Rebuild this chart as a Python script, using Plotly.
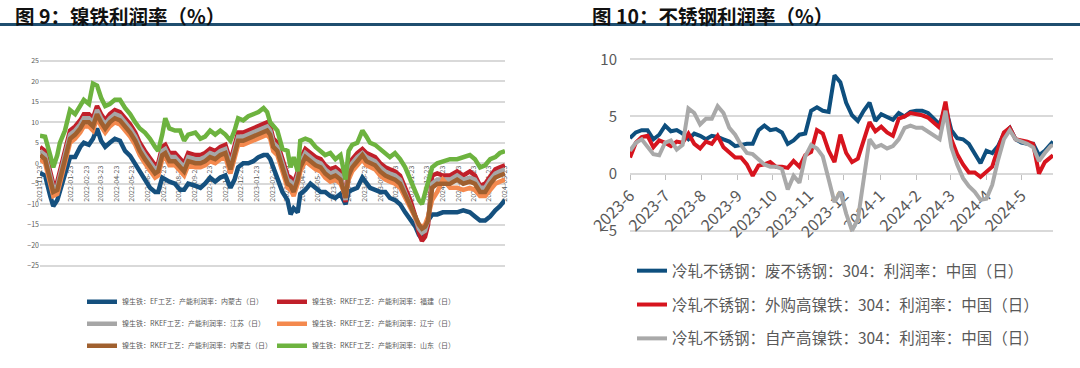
import plotly.graph_objects as go

# ---------------- Left chart data: 镍铁利润率 ----------------
left_dates = [
    "2021-11-23", "2021-12-03", "2021-12-13", "2021-12-19", "2021-12-27", "2022-01-01", "2022-01-11", "2022-01-21", "2022-01-31", "2022-02-10",
    "2022-02-17", "2022-02-27", "2022-03-07", "2022-03-15", "2022-03-23", "2022-03-31", "2022-04-09", "2022-04-19", "2022-04-29", "2022-05-09",
    "2022-05-19", "2022-05-29", "2022-06-07", "2022-06-17", "2022-06-27", "2022-07-07", "2022-07-13", "2022-07-21", "2022-07-27", "2022-08-04",
    "2022-08-15", "2022-08-25", "2022-09-02", "2022-09-10", "2022-09-24", "2022-10-04", "2022-10-13", "2022-10-23", "2022-11-02", "2022-11-12",
    "2022-11-22", "2022-12-02", "2022-12-10", "2022-12-17", "2022-12-27", "2023-01-06", "2023-01-16", "2023-01-26", "2023-02-05", "2023-02-12",
    "2023-02-18", "2023-02-24", "2023-03-04", "2023-03-14", "2023-03-24", "2023-03-30", "2023-04-05", "2023-04-13", "2023-04-18", "2023-04-28",
    "2023-05-08", "2023-05-18", "2023-05-28", "2023-06-06", "2023-06-16", "2023-06-26", "2023-07-06", "2023-07-16", "2023-07-22", "2023-07-29",
    "2023-08-08", "2023-08-18", "2023-08-26", "2023-09-02", "2023-09-12", "2023-09-22", "2023-10-02", "2023-10-11", "2023-10-21", "2023-10-31",
    "2023-11-10", "2023-11-20", "2023-11-30", "2023-12-07", "2023-12-13", "2023-12-19", "2023-12-25", "2024-01-02", "2024-01-12", "2024-01-23",
    "2024-02-06", "2024-02-20", "2024-03-03", "2024-03-16", "2024-03-26", "2024-04-05", "2024-04-15", "2024-04-25", "2024-05-05", "2024-05-14",
    "2024-05-24",
]

ef_neimenggu = [
    -2.4, -3.0, -8.0, -10.5, -9.0, -7.0, -2.5, 1.5, 1.5, 4.0,
    5.0, 4.5, 6.0, 8.5, 5.5, 4.0, 5.0, 6.0, 5.5, 3.0,
    1.8, 0.0, -2.0, -4.0, -6.0, -7.0, -7.0, -3.5, -4.0, -4.5,
    -5.0, -6.5, -6.5, -5.0, -5.5, -6.0, -5.0, -3.5, -4.5, -3.5,
    -3.0, -6.0, -4.0, -1.0, 0.0, 0.0, 0.5, 1.5, 2.0, 2.0,
    1.0, -1.0, -3.0, -7.0, -9.0, -12.5, -11.0, -12.0, -7.5, -6.5,
    -5.0, -6.0, -7.0, -7.0, -8.0, -8.5, -7.5, -10.0, -7.0, -6.5,
    -6.0, -3.5, -5.0, -6.0, -6.5, -7.0, -7.0, -8.5, -9.0, -10.0,
    -12.0, -14.0, -15.5, -17.5, -18.5, -16.0, -14.0, -12.5, -12.5, -12.0,
    -12.0, -12.0, -11.5, -12.0, -13.0, -14.0, -14.0, -13.0, -11.5, -10.5,
    -9.0,
]
rkef_fujian = [
    4.0, 3.0, -2.0, -5.0, -4.5, -2.0, 3.0, 8.0, 9.0, 10.5,
    12.0, 12.0, 11.0, 14.0, 12.0, 10.5, 12.0, 13.0, 12.5, 11.0,
    9.5, 7.5, 5.0, 3.0, 1.0, -0.5, 0.0, 4.0, 4.5, 2.5,
    2.5, 1.0, 0.0, 2.5, 2.0, 2.0, 2.5, 3.5, 3.0, 4.0,
    4.5, 0.5, 4.0, 7.5, 7.5, 8.0, 8.5, 9.0, 9.5, 10.0,
    9.0, 6.0, 5.0, 0.5, -3.0, -3.5, -5.0, -2.0, 1.0, 3.5,
    2.5, 1.5, 1.0, -0.5, -1.5, -1.0, -2.0, -9.5, -1.0, 1.0,
    2.5, 3.5, 2.5, 2.0, 1.5, 0.0, -1.0, -1.5, -2.0, -3.0,
    -6.0, -9.0, -13.0, -17.0, -19.0, -18.0, -15.0, -3.0, -2.5, -3.0,
    -3.0, -2.0, -3.0, -2.0, -3.0, -5.5, -5.0, -3.0, -1.5, -1.0,
    -0.5,
]
rkef_jiangsu = [
    3.0, 2.0, -3.0, -6.0, -5.5, -3.0, 2.0, 7.0, 8.0, 9.5,
    11.0, 11.0, 10.0, 13.0, 11.0, 9.5, 11.0, 12.0, 11.5, 10.0,
    8.5, 6.5, 4.0, 2.0, 0.0, -1.5, -1.0, 3.0, 3.5, 1.5,
    1.5, 0.0, -1.0, 1.5, 1.0, 1.0, 1.5, 2.5, 2.0, 3.0,
    3.5, -0.5, 3.0, 6.5, 6.5, 7.0, 7.5, 8.0, 8.5, 9.0,
    8.0, 5.0, 4.0, -0.5, -4.0, -4.5, -6.0, -3.0, 0.0, 2.5,
    1.5, 0.5, 0.0, -1.5, -2.5, -2.0, -3.0, -9.0, -2.0, 0.0,
    1.5, 2.5, 1.5, 1.0, 0.5, -1.0, -2.0, -2.5, -3.0, -4.0,
    -7.0, -10.0, -13.5, -16.0, -17.0, -16.5, -14.0, -5.0, -4.0, -4.0,
    -4.0, -3.0, -4.0, -3.5, -4.0, -6.0, -6.0, -4.0, -2.5, -2.0,
    -1.5,
]
rkef_liaoning = [
    1.0, 0.0, -5.0, -8.0, -7.5, -5.0, 0.0, 5.0, 6.0, 7.5,
    9.0, 9.0, 8.0, 11.0, 9.0, 7.5, 9.0, 10.0, 9.5, 8.0,
    6.5, 4.5, 2.0, 0.0, -2.0, -3.5, -3.0, 1.0, 1.5, -0.5,
    -0.5, -2.0, -3.0, -0.5, -1.0, -1.0, -0.5, 0.5, 0.0, 1.0,
    1.5, -2.5, 1.0, 4.5, 4.5, 5.0, 5.5, 6.0, 6.5, 7.0,
    6.0, 3.0, 2.0, -2.5, -6.0, -6.5, -8.0, -5.0, -2.0, 0.5,
    -0.5, -1.5, -2.0, -3.5, -4.5, -4.0, -5.0, -8.0, -4.0, -2.0,
    -0.5, 1.0, -0.5, -1.0, -1.5, -3.0, -4.0, -4.5, -5.0, -6.0,
    -8.5, -11.0, -13.5, -15.0, -15.5, -15.0, -13.0, -9.0, -7.0, -4.0,
    -6.0, -6.0, -6.5, -6.0, -6.5, -8.0, -8.0, -6.5, -5.0, -4.5,
    -4.0,
]
rkef_neimenggu = [
    2.0, 1.0, -4.0, -7.0, -6.5, -4.0, 1.0, 6.0, 7.0, 8.5,
    10.0, 10.0, 9.0, 12.0, 10.0, 8.5, 10.0, 11.0, 10.5, 9.0,
    7.5, 5.5, 3.0, 1.0, -1.0, -2.5, -2.0, 2.0, 2.5, 0.5,
    0.5, -1.0, -2.0, 0.5, 0.0, 0.0, 0.5, 1.5, 1.0, 2.0,
    2.5, -1.5, 2.0, 5.5, 5.5, 6.0, 6.5, 7.0, 7.5, 8.0,
    7.0, 4.0, 3.0, -1.5, -5.0, -5.5, -7.0, -4.0, -1.0, 1.5,
    0.5, -0.5, -1.0, -2.5, -3.5, -3.0, -4.0, -8.5, -3.0, -1.0,
    0.5, 2.0, 0.5, 0.0, -0.5, -2.0, -3.0, -3.5, -4.0, -5.0,
    -7.5, -10.0, -13.0, -15.0, -16.0, -15.5, -14.0, -6.0, -5.0, -5.0,
    -5.0, -4.0, -5.0, -4.5, -5.0, -7.0, -7.0, -5.0, -3.5, -3.0,
    -2.5,
]
rkef_shandong = [
    6.7, 6.5, 2.0, -1.0, 2.0, 5.0, 8.0, 13.0, 12.0, 14.0,
    15.5, 14.5, 19.5, 19.0, 16.0, 14.0, 14.5, 15.5, 15.5, 13.5,
    12.0, 10.0, 8.5, 7.5, 6.0, 4.0, 3.0, 7.0, 11.0, 8.5,
    8.0, 8.0, 5.5, 7.0, 7.5, 6.0, 6.5, 8.0, 7.0, 8.0,
    7.0, 5.5, 8.0, 11.0, 10.5, 11.5, 12.0, 12.5, 13.5, 12.5,
    10.0, 9.0, 8.0, 3.5, 3.0, -1.0, 1.5, -2.0, 5.5, 6.0,
    5.5, 4.0, 3.0, 2.0, 2.5, 1.0, 2.0, -4.0, 3.0, 4.5,
    5.0, 8.0, 6.5, 5.0, 4.5, 3.5, 2.5, 1.5, 2.5, 1.0,
    -1.0, -4.0, -6.5, -9.0, -10.0, -7.0, -5.0, -1.0, 0.0, 0.5,
    1.0, 1.0, 1.5, 2.0, 1.0, -1.0, -0.5, 1.0, 1.5, 2.5,
    3.0,
]

left_names = [
    "镍生铁：EF工艺：产能利润率：内蒙古（日）",
    "镍生铁：RKEF工艺：产能利润率：福建（日）",
    "镍生铁：RKEF工艺：产能利润率：江苏（日）",
    "镍生铁：RKEF工艺：产能利润率：辽宁（日）",
    "镍生铁：RKEF工艺：产能利润率：内蒙古（日）",
    "镍生铁：RKEF工艺：产能利润率：山东（日）",
]
left_ticks = [
    "2021-11-23", "2022-01-23", "2022-02-23", "2022-03-23", "2022-04-23", "2022-05-23", "2022-06-23",
    "2022-07-23", "2022-08-23", "2022-09-23", "2022-10-23", "2022-11-23", "2022-12-23", "2023-01-23",
    "2023-02-23", "2023-03-23", "2023-04-23", "2023-05-23", "2023-06-23", "2023-07-23", "2023-08-23",
    "2023-09-23", "2023-10-23", "2023-11-23", "2023-12-23", "2024-01-23", "2024-02-23", "2024-03-23",
    "2024-04-23", "2024-05-23",
]
left_yticks = [-25, -20, -15, -10, -5, 0, 5, 10, 15, 20, 25]

# ---------------- Right chart data: 不锈钢利润率 ----------------
right_dates = [
    "2023-06-01", "2023-06-06", "2023-06-11", "2023-06-16", "2023-06-21", "2023-06-26", "2023-07-01", "2023-07-06", "2023-07-11", "2023-07-16",
    "2023-07-21", "2023-07-26", "2023-07-31", "2023-08-05", "2023-08-10", "2023-08-15", "2023-08-20", "2023-08-25", "2023-08-30", "2023-09-04",
    "2023-09-09", "2023-09-14", "2023-09-19", "2023-09-24", "2023-09-29", "2023-10-04", "2023-10-09", "2023-10-14", "2023-10-19", "2023-10-24",
    "2023-10-29", "2023-11-03", "2023-11-08", "2023-11-13", "2023-11-18", "2023-11-23", "2023-11-28", "2023-12-03", "2023-12-08", "2023-12-13",
    "2023-12-18", "2023-12-23", "2023-12-28", "2024-01-02", "2024-01-07", "2024-01-12", "2024-01-17", "2024-01-22", "2024-01-27", "2024-02-01",
    "2024-02-06", "2024-02-11", "2024-02-16", "2024-02-21", "2024-02-26", "2024-03-02", "2024-03-07", "2024-03-12", "2024-03-17", "2024-03-22",
    "2024-03-27", "2024-04-01", "2024-04-06", "2024-04-11", "2024-04-16", "2024-04-21", "2024-04-26", "2024-05-01", "2024-05-06", "2024-05-11",
    "2024-05-16", "2024-05-21", "2024-05-26", "2024-05-28",
]
scrap_304 = [
    3.1, 3.6, 3.8, 3.8, 3.0, 3.4, 4.2, 3.7, 3.8, 3.5,
    3.0, 3.5, 3.3, 3.0, 3.3, 3.2, 3.0, 2.8, 2.4, 2.5,
    2.6, 2.6, 3.8, 4.2, 3.8, 3.9, 3.6, 2.6, 2.9, 3.4,
    3.5, 5.5, 5.8, 5.5, 5.4, 8.6, 8.0, 6.2, 5.1, 4.6,
    5.5, 6.2, 4.6, 5.2, 4.9, 4.7, 5.3, 5.0, 5.4, 5.5,
    5.5, 5.3, 4.8, 4.3, 5.8, 3.8, 3.1, 3.0, 2.6, 1.8,
    0.9, 2.0, 1.8, 2.4, 3.5, 4.0, 3.0, 2.7, 2.6, 2.6,
    1.6, 2.0, 2.6, 2.8,
]
bought_npi_304 = [
    1.4, 2.7, 3.2, 3.3, 2.3, 2.9, 2.7, 2.4, 2.8, 2.7,
    3.5, 2.6, 2.2, 2.8, 2.6, 3.3, 2.3, 1.8, 1.4, 1.4,
    0.8, -0.2, 0.7, 0.8, 1.0, 0.6, 0.6, 0.5, 1.1, 0.6,
    1.6, 1.9, 3.8, 3.5, 2.0, 1.0, 3.4, 1.8, 1.0, 1.3,
    2.8, 4.5, 3.7, 4.1, 3.6, 3.3, 4.8, 5.0, 5.3, 5.2,
    5.1, 4.9, 4.5, 4.0, 6.3, 3.0, 1.7, 0.8, 0.1, 0.1,
    -0.3, 0.2, 0.6, 2.2, 3.6, 4.0, 3.0, 2.9, 2.8, 2.6,
    0.0, 1.0, 1.4, 1.6,
]
own_npi_304 = [
    2.0, 2.7, 3.0, 2.4, 1.7, 1.6, 2.7, 2.9, 2.1, 2.5,
    5.7, 5.3, 4.3, 4.8, 4.8, 5.9, 5.3, 4.0, 3.4, 2.5,
    1.8, 1.7, 1.3, 0.8, 0.6, 0.6, 0.4, -1.4, -0.2, -0.8,
    1.5, 2.5, 2.2, 1.5, -0.5, -2.5, -1.6, -3.5, -5.0, -4.0,
    -0.5, 3.0, 2.3, 2.5, 2.2, 2.4, 3.0, 4.0, 4.2, 4.0,
    4.0, 3.7, 3.3, 3.0, 5.5, 2.3, 0.8, -0.4, -1.1, -1.6,
    -2.3, -2.2, -1.0, 1.2, 3.0, 3.8, 3.0, 2.8, 2.6, 2.3,
    1.1, 1.8, 2.4, 2.5,
]
right_names = [
    "冷轧不锈钢：废不锈钢：304：利润率：中国（日）",
    "冷轧不锈钢：外购高镍铁：304：利润率：中国（日）",
    "冷轧不锈钢：自产高镍铁：304：利润率：中国（日）",
]
right_tickvals = [
    "2023-06-01", "2023-07-01", "2023-08-01", "2023-09-01", "2023-10-01", "2023-11-01",
    "2023-12-01", "2024-01-01", "2024-02-01", "2024-03-01", "2024-04-01", "2024-05-01",
]
right_ticktext = [
    "2023-6", "2023-7", "2023-8", "2023-9", "2023-10", "2023-11",
    "2023-12", "2024-1", "2024-2", "2024-3", "2024-4", "2024-5",
]
right_yticks = [-5, 0, 5, 10]

titles = ["图 9：镍铁利润率（%）", "图 10：不锈钢利润率（%）"]

# ---------------- Styling ----------------
W, H = 1080, 368
FONT = "Noto Sans CJK SC, Microsoft YaHei, sans-serif"
TXT = "#595959"
GRID = "#d9d9d9"

left_series = [ef_neimenggu, rkef_fujian, rkef_jiangsu, rkef_liaoning, rkef_neimenggu, rkef_shandong]
left_colors = ["#15507e", "#c0202a", "#a6a6a6", "#f4894e", "#a0602f", "#6db33f"]
left_legends = ["legend", "legend2", "legend", "legend2", "legend", "legend2"]

right_series = [scrap_304, bought_npi_304, own_npi_304]
right_colors = ["#0e4f7e", "#d7141e", "#a9a9a9"]

fig = go.Figure()
for i, (vals, col, name, lg) in enumerate(zip(left_series, left_colors, left_names, left_legends)):
    fig.add_trace(go.Scatter(
        x=left_dates, y=vals, name=name, mode="lines",
        line=dict(color=col, width=4.5), xaxis="x", yaxis="y",
        legend=lg, legendgroup=f"l{i}", hoverinfo="skip",
    ))
for i, (vals, col, name) in enumerate(zip(right_series, right_colors, right_names)):
    fig.add_trace(go.Scatter(
        x=right_dates, y=vals, name=name, mode="lines",
        line=dict(color=col, width=4), xaxis="x2", yaxis="y2",
        legend="legend3", legendgroup=f"r{i}", hoverinfo="skip",
    ))

def px_x(p):
    return p / W

def px_y(p):
    return 1 - p / H

fig.update_layout(
    template="none",
    width=W, height=H, autosize=False,
    margin=dict(l=0, r=0, t=0, b=0, pad=0),
    paper_bgcolor="white", plot_bgcolor="white",
    font=dict(family=FONT, color=TXT),
    xaxis=dict(
        domain=[px_x(40), px_x(505)], anchor="free", position=px_y(163.3),
        type="date", range=[left_dates[0], left_dates[-1]],
        tickvals=left_ticks, ticktext=left_ticks, tickangle=-90,
        tickfont=dict(size=7, color=TXT), showgrid=False, showline=False,
        zeroline=False, ticks="", layer="below traces", fixedrange=True,
        automargin=False,
    ),
    yaxis=dict(
        domain=[px_y(269.6), px_y(56.9)], anchor="x", range=[-26, 26],
        tickvals=left_yticks, tickfont=dict(size=7, color=TXT),
        showgrid=True, gridcolor=GRID, gridwidth=1.5, zeroline=False,
        showline=False, ticks="", fixedrange=True, automargin=False,
    ),
    xaxis2=dict(
        domain=[px_x(630), px_x(1053)], anchor="free", position=px_y(174),
        type="date", range=[right_dates[0], right_dates[-1]],
        tickvals=right_tickvals, ticktext=right_ticktext, tickangle=-45,
        tickfont=dict(size=16, color=TXT), showgrid=False, showline=False,
        zeroline=False, ticks="outside", ticklen=5, tickcolor="#bfbfbf",
        layer="below traces", fixedrange=True, automargin=False,
    ),
    yaxis2=dict(
        domain=[px_y(236.4), px_y(53.6)], anchor="x2", range=[-5.5, 10.5],
        tickvals=right_yticks, tickfont=dict(size=15, color=TXT),
        showgrid=True, gridcolor=GRID, gridwidth=1.5, zeroline=False,
        showline=False, ticks="", ticklabelstandoff=12, fixedrange=True,
        automargin=False,
    ),
    legend=dict(
        x=px_x(82), y=px_y(287.2), xanchor="left", yanchor="top",
        font=dict(size=7, color=TXT, family=FONT), bgcolor="rgba(0,0,0,0)",
        tracegroupgap=3, orientation="v", borderwidth=0,
    ),
    legend2=dict(
        x=px_x(272), y=px_y(287.2), xanchor="left", yanchor="top",
        font=dict(size=7, color=TXT, family=FONT), bgcolor="rgba(0,0,0,0)",
        tracegroupgap=3, orientation="v", borderwidth=0,
    ),
    legend3=dict(
        x=px_x(632), y=px_y(254.1), xanchor="left", yanchor="top",
        font=dict(size=15.5, color=TXT, family=FONT), bgcolor="rgba(0,0,0,0)",
        tracegroupgap=10.7, orientation="v", borderwidth=0,
    ),
    shapes=[dict(
        type="line", xref="paper", yref="paper", x0=0, x1=1,
        y0=px_y(24.6), y1=px_y(24.6), line=dict(color="#1f4e6f", width=3),
    )],
    annotations=[
        dict(text=f"<b>{titles[0]}</b>", x=px_x(14), y=1, xref="paper", yref="paper",
             xanchor="left", yanchor="top", showarrow=False, borderpad=0,
             font=dict(size=19.5, color="#111111", family=FONT)),
        dict(text=f"<b>{titles[1]}</b>", x=px_x(591), y=1, xref="paper", yref="paper",
             xanchor="left", yanchor="top", showarrow=False, borderpad=0,
             font=dict(size=19.5, color="#111111", family=FONT)),
    ],
    showlegend=True,
)

fig.write_html("out.html", config={"displayModeBar": False},
               post_script="document.body.style.margin='0px';")
